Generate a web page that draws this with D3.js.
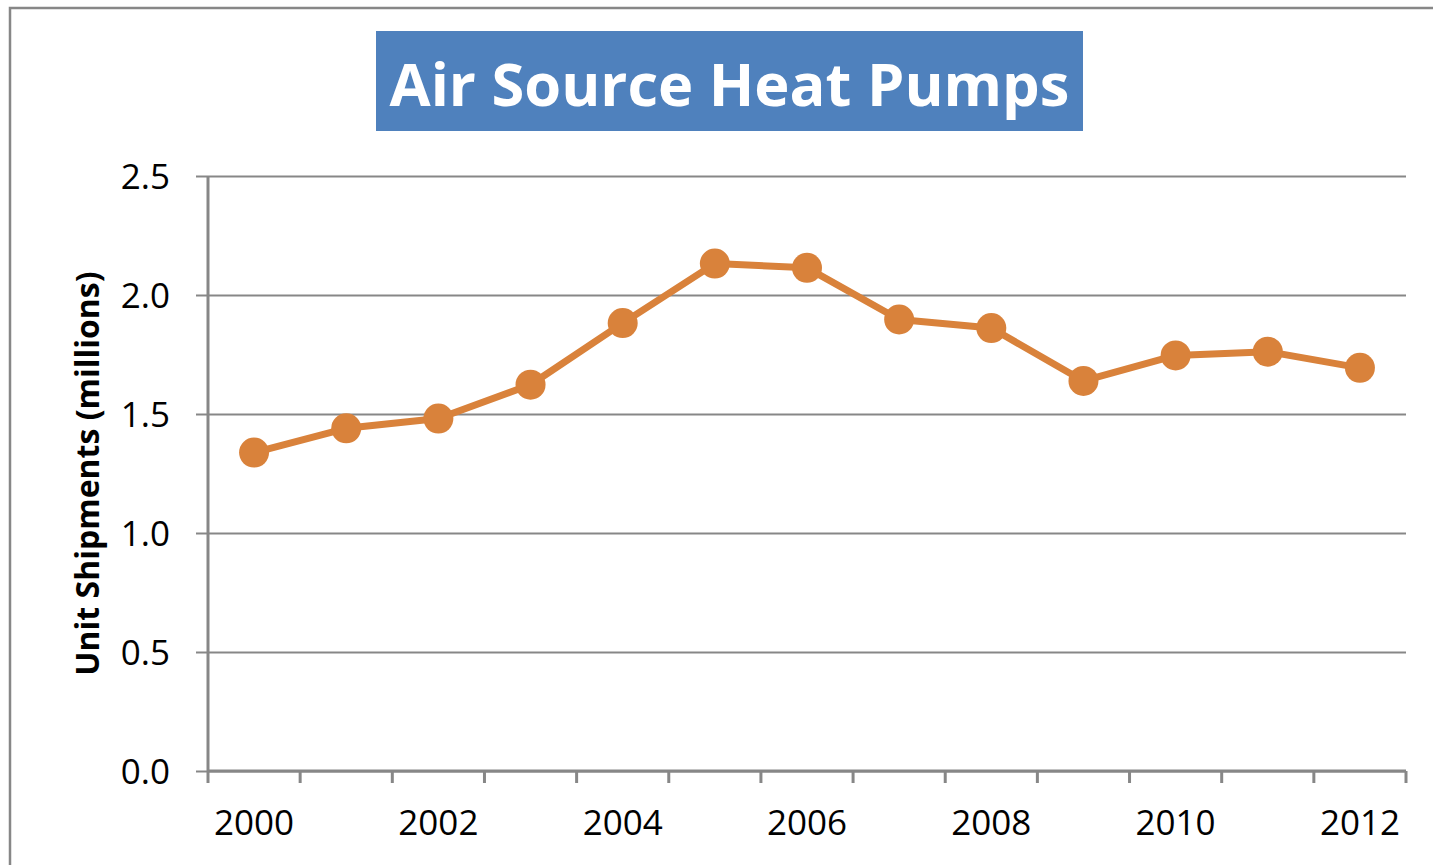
<!DOCTYPE html>
<html>
<head>
<meta charset="utf-8">
<script src="https://cdn.jsdelivr.net/npm/d3@7"></script>
<style>
  body { margin: 0; background: #fff; }
  svg { display: block; }
</style>
</head>
<body>
<svg width="1433" height="865"></svg>
<script>
// data
var years = ["2000","2001","2002","2003","2004","2005","2006","2007","2008","2009","2010","2011","2012"];
var shipments = [1.338, 1.440, 1.481, 1.623, 1.882, 2.132, 2.114, 1.897, 1.861, 1.639, 1.746, 1.762, 1.694];
var yTicks = [0, 0.5, 1.0, 1.5, 2.0, 2.5];
var xLabels = ["2000","2002","2004","2006","2008","2010","2012"];
var chartTitle = "Air Source Heat Pumps";
var yTitle = "Unit Shipments (millions)";

var font = "'Open Sans', 'DejaVu Sans', sans-serif";
var gridCol = "#878787";
var lineCol = "#D9823B";

var svg = d3.select("svg"),
    plotL = 208, plotR = 1406, plotT = 176, plotB = 771;

// outer frame
svg.append("rect")
    .attr("x", 10).attr("y", 8)
    .attr("width", 1440).attr("height", 900)
    .attr("fill", "none")
    .attr("stroke", gridCol)
    .attr("stroke-width", 2.5);

var x = d3.scaleBand().domain(years).range([plotL, plotR]).paddingInner(0).paddingOuter(0);
var y = d3.scaleLinear().domain([0, 2.5]).range([plotB, plotT]);

// gridlines + y axis
var yAx = svg.append("g")
    .attr("transform", "translate(" + plotL + ",0)")
    .call(d3.axisLeft(y).tickValues(yTicks).tickFormat(d3.format(".1f"))
        .tickSize(-(plotR - plotL)).tickSizeOuter(0).tickPadding(38));
yAx.select(".domain").remove();
yAx.selectAll(".tick line")
    .attr("x1", -12)
    .attr("stroke", gridCol)
    .attr("stroke-width", 2);
yAx.selectAll(".tick text")
    .attr("font-family", font)
    .attr("font-size", 35)
    .attr("fill", "#000")
    .attr("dy", "0.36em");

svg.append("line")
    .attr("x1", plotL).attr("x2", plotL)
    .attr("y1", plotT).attr("y2", plotB)
    .attr("stroke", gridCol).attr("stroke-width", 3);

// x axis: ticks between categories
var bounds = years.map(function(d){ return x(d); }).concat([plotR]);
var xAx = svg.append("g");
xAx.append("line")
    .attr("x1", plotL).attr("x2", plotR)
    .attr("y1", plotB).attr("y2", plotB)
    .attr("stroke", gridCol).attr("stroke-width", 3);
xAx.selectAll(".xt")
    .data(bounds)
    .enter().append("line")
    .attr("x1", function(d){ return d; })
    .attr("x2", function(d){ return d; })
    .attr("y1", plotB).attr("y2", plotB + 12)
    .attr("stroke", gridCol).attr("stroke-width", 3);
xAx.selectAll(".xl")
    .data(xLabels)
    .enter().append("text")
    .attr("x", function(d){ return x(d) + x.bandwidth() / 2; })
    .attr("y", 835)
    .attr("text-anchor", "middle")
    .attr("font-family", font)
    .attr("font-size", 35)
    .attr("fill", "#000")
    .text(function(d){ return d; });

// series
var pts = years.map(function(d, i){ return { yr: d, v: shipments[i] }; });
var lineGen = d3.line()
    .x(function(d){ return x(d.yr) + x.bandwidth() / 2; })
    .y(function(d){ return y(d.v); });

svg.append("path")
    .datum(pts)
    .attr("fill", "none")
    .attr("stroke", lineCol)
    .attr("stroke-width", 7)
    .attr("stroke-linejoin", "round")
    .attr("d", lineGen);

svg.selectAll(".dot")
    .data(pts)
    .enter().append("circle")
    .attr("cx", function(d){ return x(d.yr) + x.bandwidth() / 2; })
    .attr("cy", function(d){ return y(d.v); })
    .attr("r", 15)
    .attr("fill", lineCol);

// title box
svg.append("rect")
    .attr("x", 376).attr("y", 31)
    .attr("width", 707).attr("height", 100)
    .attr("fill", "#4F81BD");
var t = svg.append("text")
    .attr("x", 729.5).attr("y", 106)
    .attr("text-anchor", "middle")
    .attr("font-family", font)
    .attr("font-weight", "bold")
    .attr("font-size", 60)
    .attr("fill", "#fff")
    .text(chartTitle);
var tw = t.node().getComputedTextLength();
t.attr("font-size", 60 * 680 / tw);

// y title
svg.append("text")
    .attr("transform", "translate(99," + ((plotT + plotB) / 2) + ") rotate(-90)")
    .attr("text-anchor", "middle")
    .attr("font-family", font)
    .attr("font-weight", "bold")
    .attr("font-size", 32)
    .attr("fill", "#000")
    .text(yTitle);
</script>
</body>
</html>
